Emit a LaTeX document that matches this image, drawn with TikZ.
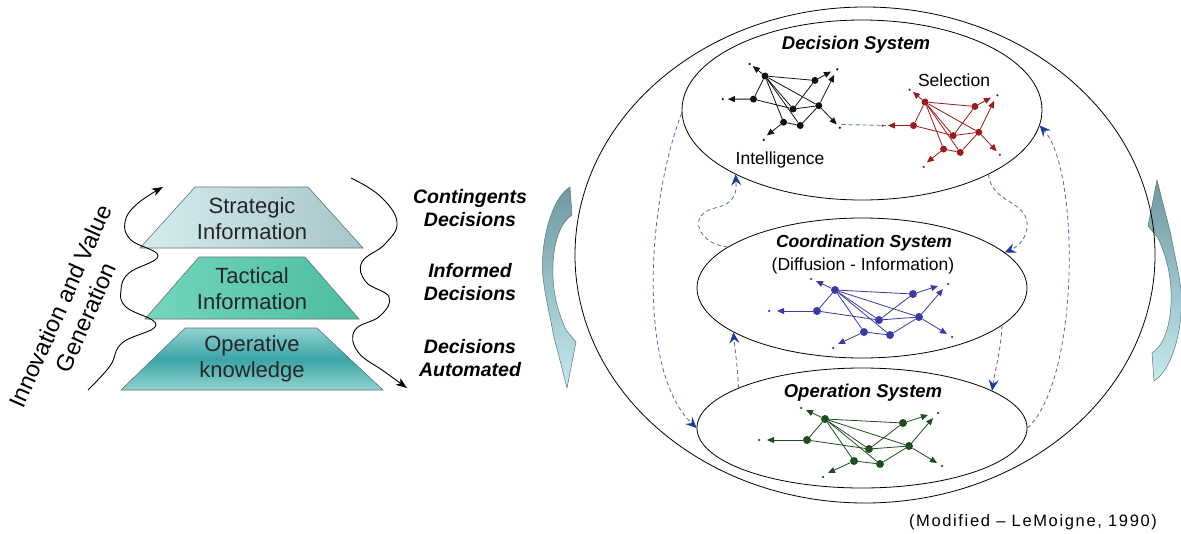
\documentclass[tikz,border=0pt]{standalone}
\usepackage{fontspec}
\setmainfont{Liberation Sans}
\newfontfamily\spacedfont[LetterSpace=10]{Liberation Sans}
\usetikzlibrary{shapes.geometric,arrows.meta}
\definecolor{dashblue}{HTML}{4F6E9E}
\definecolor{headblue}{HTML}{1C3C9C}
\definecolor{netblack}{HTML}{111111}
\definecolor{netred}{HTML}{9C1A1A}
\definecolor{netblue}{HTML}{3B3BA6}
\definecolor{netgreen}{HTML}{1E4D1E}
\definecolor{strL}{HTML}{D6ECEE}
\definecolor{strR}{HTML}{A6C6CA}
\definecolor{tacL}{HTML}{74D5BD}
\definecolor{tacR}{HTML}{4DBDA2}
\definecolor{opeE}{HTML}{92D2D1}
\definecolor{opeM}{HTML}{3AA5A7}
\definecolor{fatD}{HTML}{6F98A0}
\definecolor{fatL}{HTML}{C4EAEE}
\definecolor{edgegray}{HTML}{5E7678}
\tikzset{
  pyr/.style={draw=edgegray, line width=0.6pt},
  pyrtext/.style={font=\fontsize{22}{26}\selectfont, align=center, text=black!85},
  declabel/.style={font=\fontsize{19.5}{23}\selectfont\bfseries\itshape, align=center},
  sysell/.style={ellipse, draw, line width=0.8pt, inner sep=0pt},
  systitle/.style={font=\fontsize{18.5}{22}\selectfont\bfseries\itshape},
  sublabel/.style={font=\fontsize{17.5}{21}\selectfont},
  dashconn/.style={draw=dashblue, line width=0.8pt, dash pattern=on 4pt off 3pt,
     -{Stealth[length=11pt,width=10pt,inset=4pt,color=headblue]}},
  netdot/.style={circle, fill=#1, inner sep=0pt},
  netline/.style={draw=#1, line width=0.8pt},
  netarrow/.style={draw=#1, line width=0.8pt, -{Triangle[length=7pt,width=6pt]}},
  tinydot/.style={circle, fill=#1, inner sep=0pt, minimum size=2.5pt},
  wave/.style={line width=0.9pt, -{Stealth[length=11pt,width=8pt,inset=3pt]}},
  fatarrow/.style={draw=edgegray, line width=0.5pt, top color=fatD, bottom color=fatL}
}
\newcommand\drawnet[7]{%
\begin{scope}[shift={(#2,#3)},xscale=#4,yscale=#5]
\foreach \n/\px/\py in {A/0/0,B/78/4,C/-18/21,D/44/30,E/84/27,F/29/42,G/55/45}
  \node[netdot=#6,minimum size=#7] (#1\n) at (\px,\py) {};
\coordinate (#1tA) at (-19,-9); \coordinate (#1dA) at (-24,-11);
\coordinate (#1tC) at (-58,21); \coordinate (#1dC) at (-66,21);
\coordinate (#1tB) at (103,-4);
\coordinate (#1tE) at (108,-1); \coordinate (#1dB) at (113,-6);
\coordinate (#1tS) at (112,44); \coordinate (#1dS) at (117,47);
\coordinate (#1tF) at (3,54);   \coordinate (#1dF) at (-2,58);
\foreach \a/\b in {A/B,A/C,A/D,A/E,A/F,A/G,B/D,C/D,D/E,E/G,F/G}
  \draw[netline=#6] (#1\a) -- (#1\b);
\foreach \a/\b in {A/tA,C/tC,B/tB,E/tE,E/tS,F/tF}
  \draw[netarrow=#6] (#1\a) -- (#1\b);
\foreach \d in {dA,dC,dB,dS,dF}
  \node[tinydot=#6] (#1\d n) at (#1\d) {};
\end{scope}}
\newcommand\fatshape{%
(12,-100) .. controls (-8,-88) and (-20,-37) .. (-14,-2)
 .. controls (-11,18) and (-7,33) .. (-5,46) -- (9,101) -- (18,55) -- (8,43)
 .. controls (-1,23) and (-6,3) .. (-5,-22)
 .. controls (-4,-47) and (3,-65) .. (14,-72) -- cycle}
\begin{document}
\begin{tikzpicture}[x=1pt,y=-1pt]
\useasboundingbox (0,0) rectangle (1181,533);
\fill[white] (0,0) rectangle (1181,533);

% ---------- pyramid ----------
\path[pyr, left color=strL, right color=strR] (195,187) -- (308,187) -- (363,248) -- (140,248) -- cycle;
\path[pyr, left color=tacL, right color=tacR] (199,257) -- (305,257) -- (359,319) -- (145,319) -- cycle;
\path[pyr, top color=opeE, bottom color=opeE, middle color=opeM] (185,328) -- (317,328) -- (383,390) -- (121,390) -- cycle;
\node[pyrtext] (strat) at (252,219) {Strategic\\Information};
\node[pyrtext] (tact) at (252,289) {Tactical\\Information};
\node[pyrtext] (oper1) at (252,359) {Operative\\knowledge};

% waves
\draw[wave] plot[smooth, tension=0.7] coordinates {(88,390) (110,366) (122,343) (156,325) (126,307) (121,290) (129,273) (158,256) (131,240) (125,222) (137,204) (163,187)};
\draw[wave] plot[smooth, tension=0.7] coordinates {(351,178) (380,196) (397,222) (385,244) (362,262) (366,282) (389,297) (380,316) (355,330) (358,352) (385,372) (407,388)};

\node[rotate=66, font=\fontsize{23.5}{28}\selectfont, align=center] (innov) at (73,312) {Innovation and Value\\Generation};

% decision labels
\node[declabel] (cont) at (470,208) {Contingents\\Decisions};
\node[declabel] (inf) at (470,282) {Informed\\Decisions};
\node[declabel] (auto) at (470,358) {Decisions\\Automated};

% fat curved arrows
\begin{scope}[shift={(558,287)}]
\path[fatarrow] \fatshape;
\end{scope}
\begin{scope}[shift={(1166,281)}, rotate=180]
\path[fatarrow] \fatshape;
\end{scope}

% ---------- systems ----------
\node[sysell, minimum width=580pt, minimum height=496pt] (outer) at (865,255) {};
\node[sysell, minimum width=360pt, minimum height=180pt] (dec) at (862,110) {};
\node[sysell, minimum width=330pt, minimum height=140pt] (coord) at (862,288) {};
\node[sysell, minimum width=330pt, minimum height=120pt] (oper) at (862,428) {};

\node[systitle] (dect) at (856,45) {Decision System};
\node[sublabel] (sel) at (954,80) {Selection};
\node[sublabel] (intl) at (780,160) {Intelligence};
\node[font=\fontsize{17.5}{21}\selectfont\bfseries\itshape] (coordt) at (864,243) {Coordination System};
\node[sublabel] (diff) at (863,266) {(Diffusion - Information)};
\node[systitle] (opert) at (863,393) {Operation System};

% networks
\drawnet{bk}{765}{76}{0.64}{1.1}{netblack}{7pt}
\drawnet{rd}{925}{102}{0.64}{1.12}{netred}{7pt}
\drawnet{bl}{835}{290}{1}{1}{netblue}{8pt}
\drawnet{gr}{825}{419}{1}{1}{netgreen}{8pt}
\draw[draw=dashblue, line width=0.8pt, dash pattern=on 4pt off 3pt, shorten <=5pt, shorten >=2pt] (bktS) -- (rdtC);

% dashed connectors
\draw[dashconn] (dec.181) .. controls (648,200) and (636,370) .. (oper.180);
\draw[dashconn] (oper.162) .. controls (738,370) and (735,350) .. (coord.199);
\draw[dashconn] (coord.163) .. controls (700,245) and (685,215) .. (715,208) .. controls (733,204) and (737,195) .. (dec.207);
\draw[dashconn] (dec.333) .. controls (992,205) and (1030,200) .. (1027,228) .. controls (1025,242) and (1015,248) .. (coord.14);
\draw[dashconn] (coord.345) .. controls (1001,350) and (995,370) .. (oper.16);
\draw[dashconn] (oper.east) .. controls (1080,380) and (1080,170) .. (dec.355);

\node[font=\fontsize{16.5}{20}\selectfont\spacedfont] (src) at (1033,522) {(Modified – LeMoigne, 1990)};
\end{tikzpicture}
\end{document}
